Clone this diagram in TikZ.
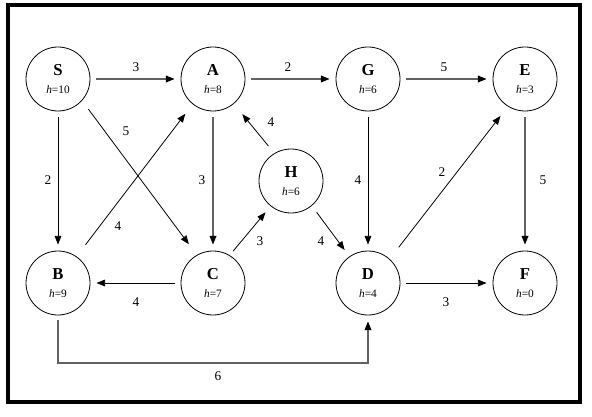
\documentclass[tikz,border=0pt]{standalone}
\usepackage{fontspec}
\setmainfont{Liberation Serif}
\usetikzlibrary{arrows.meta, calc}

\begin{document}
\begin{tikzpicture}[x=0.75pt, y=-0.75pt, >={Triangle[length=6.5pt,width=5pt,color=black]},
    vert/.style={circle, draw=black, line width=0.6pt, minimum size=48pt, inner sep=0pt,
      align=center, font=\fontsize{12.5}{14}\selectfont},
    bline/.style={->, black, line width=0.6pt, shorten <=4.5pt, shorten >=4.5pt},
    gline/.style={->, black!62, line width=1pt, shorten <=4.5pt, shorten >=4.5pt},
    wlabel/.style={font=\fontsize{10}{12}\selectfont}]
    \useasboundingbox (0,0) rectangle (592,417);
    % 外框
    \draw[line width=3pt] (8,5) rectangle (580,402);

    % 结点
    \node[vert] (S) at (58,79)  {\textbf{S}\\{\fontsize{8.5}{9}\selectfont\textit{h}=10}};
    \node[vert] (A) at (213,79) {\textbf{A}\\{\fontsize{8.5}{9}\selectfont\textit{h}=8}};
    \node[vert] (G) at (368,79) {\textbf{G}\\{\fontsize{8.5}{9}\selectfont\textit{h}=6}};
    \node[vert] (E) at (525,79) {\textbf{E}\\{\fontsize{8.5}{9}\selectfont\textit{h}=3}};
    \node[vert] (H) at (291,181) {\textbf{H}\\{\fontsize{8.5}{9}\selectfont\textit{h}=6}};
    \node[vert] (B) at (58,283) {\textbf{B}\\{\fontsize{8.5}{9}\selectfont\textit{h}=9}};
    \node[vert] (C) at (213,283) {\textbf{C}\\{\fontsize{8.5}{9}\selectfont\textit{h}=7}};
    \node[vert] (D) at (368,283) {\textbf{D}\\{\fontsize{8.5}{9}\selectfont\textit{h}=4}};
    \node[vert] (F) at (525,283) {\textbf{F}\\{\fontsize{8.5}{9}\selectfont\textit{h}=0}};
    \coordinate (low) at (217,363);

    % 边
    \draw[gline] (S) -- (A);
    \draw[gline] (A) -- (G);
    \draw[gline] (G) -- (E);
    \draw[bline] (S) -- (B);
    \draw[gline] (A) -- (C);
    \draw[bline] (G) -- (D);
    \draw[gline] (E) -- (F);
    \draw[bline] (C) -- (B);
    \draw[bline] (D) -- (F);
    \draw[bline, shorten <=8pt, shorten >=10pt] (S.-42) -- (C.120);
    \draw[bline, shorten <=11pt, shorten >=9pt] (B.55) -- (A.-129);
    \draw[bline, shorten <=7pt, shorten >=10pt] (H.121) -- (A.-50);
    \draw[bline, shorten <=4pt, shorten >=6pt] (C.59) -- (H.-129);
    \draw[bline, shorten <=6pt, shorten >=6pt] (H.-50) -- (D.125);
    \draw[bline, shorten <=11pt, shorten >=9pt] (D.48) -- (E.-122);
    \draw[gline, shorten <=3.5pt] (B) |- (low) -| (D);

    % 权值
    \node[wlabel] at (136,67) {3};
    \node[wlabel] at (288,67) {2};
    \node[wlabel] at (444,67) {5};
    \node[wlabel] at (48,180) {2};
    \node[wlabel] at (126,131) {5};
    \node[wlabel] at (118,226) {4};
    \node[wlabel] at (202,180) {3};
    \node[wlabel] at (271,122) {4};
    \node[wlabel] at (260,241) {3};
    \node[wlabel] at (321,241) {4};
    \node[wlabel] at (358,180) {4};
    \node[wlabel] at (442,172) {2};
    \node[wlabel] at (543,180) {5};
    \node[wlabel] at (136,302) {4};
    \node[wlabel] at (446,302) {3};
    \node[wlabel] at (218,376) {6};
\end{tikzpicture}
\end{document}
